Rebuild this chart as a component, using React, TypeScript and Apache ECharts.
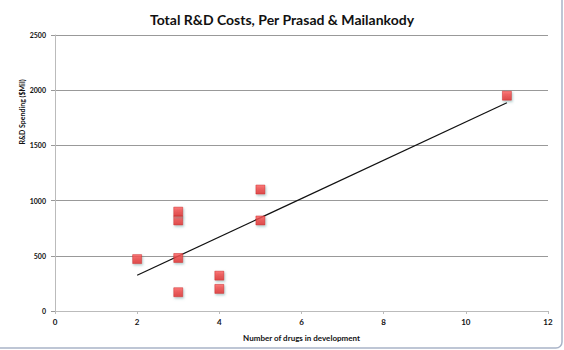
import React, { useEffect, useRef } from "react";
import * as echarts from "echarts";

const drugCounts = [2, 3, 3, 3, 3, 4, 4, 5, 5, 11];
const rdSpending = [470, 170, 480, 820, 900, 320, 200, 1100, 820, 1950];
const xTicks = [0, 2, 4, 6, 8, 10, 12];
const yTicks = [0, 500, 1000, 1500, 2000, 2500];

function trendLine(xs: number[], ys: number[]) {
  const n = xs.length;
  const mx = xs.reduce((a, b) => a + b, 0) / n;
  const my = ys.reduce((a, b) => a + b, 0) / n;
  let sxx = 0, sxy = 0;
  for (let i = 0; i < n; i++) {
    sxx += (xs[i] - mx) ** 2;
    sxy += (xs[i] - mx) * (ys[i] - my);
  }
  const slope = sxy / sxx;
  const icpt = my - slope * mx;
  const x0 = Math.min(...xs);
  const x1 = Math.max(...xs);
  return [[x0, icpt + slope * x0], [x1, icpt + slope * x1]];
}

export default function App() {
  const ref = useRef<HTMLDivElement>(null);
  useEffect(() => {
    document.body.style.margin = "0";
    if (!ref.current) return;
    const chart = echarts.init(ref.current, undefined, { renderer: "svg" });
    const font = "Lato, 'Open Sans', sans-serif";
    chart.setOption({
      animation: false,
      backgroundColor: "#fff",
      title: {
        text: "Total R&D Costs, Per Prasad & Mailankody",
        left: "center",
        top: 7,
        textStyle: { fontFamily: font, fontSize: 14, fontWeight: "bold", color: "#111" },
      },
      grid: { left: 55, right: 16, top: 35, bottom: 39 },
      xAxis: {
        type: "value",
        min: xTicks[0],
        max: xTicks[xTicks.length - 1],
        interval: 2,
        name: "Number of drugs in development",
        nameLocation: "middle",
        nameGap: 23,
        nameTextStyle: { fontFamily: font, fontSize: 8, fontWeight: "bold", color: "#111" },
        axisLine: { show: true, lineStyle: { color: "#bbb", width: 1 } },
        axisTick: { show: true, length: 3, lineStyle: { color: "#bbb" } },
        splitLine: { show: false },
        axisLabel: {
          fontFamily: font, fontSize: 8, fontWeight: "bold", color: "#111", margin: 7,
          formatter: (v: number) => String(v), showMaxLabel: true,
        },
      },
      yAxis: {
        type: "value",
        min: yTicks[0],
        max: yTicks[yTicks.length - 1],
        interval: 500,
        axisLine: { show: true, lineStyle: { color: "#bbb", width: 1 } },
        axisTick: { show: true, length: 4, lineStyle: { color: "#999" } },
        splitLine: { show: true, lineStyle: { color: "#999", width: 1 } },
        axisLabel: {
          fontFamily: font, fontSize: 7, fontWeight: "bold", color: "#111", margin: 9,
          formatter: (v: number) => String(v),
        },
      },
      graphic: [
        {
          type: "text",
          x: 22,
          y: 112,
          rotation: Math.PI / 2,
          style: {
            text: "R&D Spending ($Mil)",
            fontFamily: font,
            fontSize: 7,
            fontWeight: "bold",
            fill: "#111",
            textAlign: "center",
            textVerticalAlign: "middle",
          },
        },
        {
          type: "rect",
          shape: { x: -20, y: -20, width: 582, height: 368, r: 6 },
          style: { fill: "none", stroke: "#a9b4c8", lineWidth: 1.5 },
          silent: true,
        },
      ],
      series: [
        {
          type: "line",
          data: trendLine(drugCounts, rdSpending),
          symbol: "none",
          lineStyle: { color: "#111", width: 1.2 },
          z: 3,
        },
        {
          type: "scatter",
          data: drugCounts.map((x, i) => [x, rdSpending[i]]),
          symbol: "rect",
          symbolSize: 9,
          itemStyle: {
            color: new echarts.graphic.LinearGradient(0, 0, 0, 1, [
              { offset: 0, color: "#ff5c5c" },
              { offset: 1, color: "#e01e1e" },
            ]),
            borderColor: "#c81e1e",
            borderWidth: 0.6,
            shadowColor: "rgba(60,130,130,0.5)",
            shadowBlur: 2,
            shadowOffsetX: 1,
            shadowOffsetY: 1.5,
          },
          z: 4,
        },
      ],
    });
    return () => chart.dispose();
  }, []);
  return <div ref={ref} style={{ width: 564, height: 350 }} />;
}
